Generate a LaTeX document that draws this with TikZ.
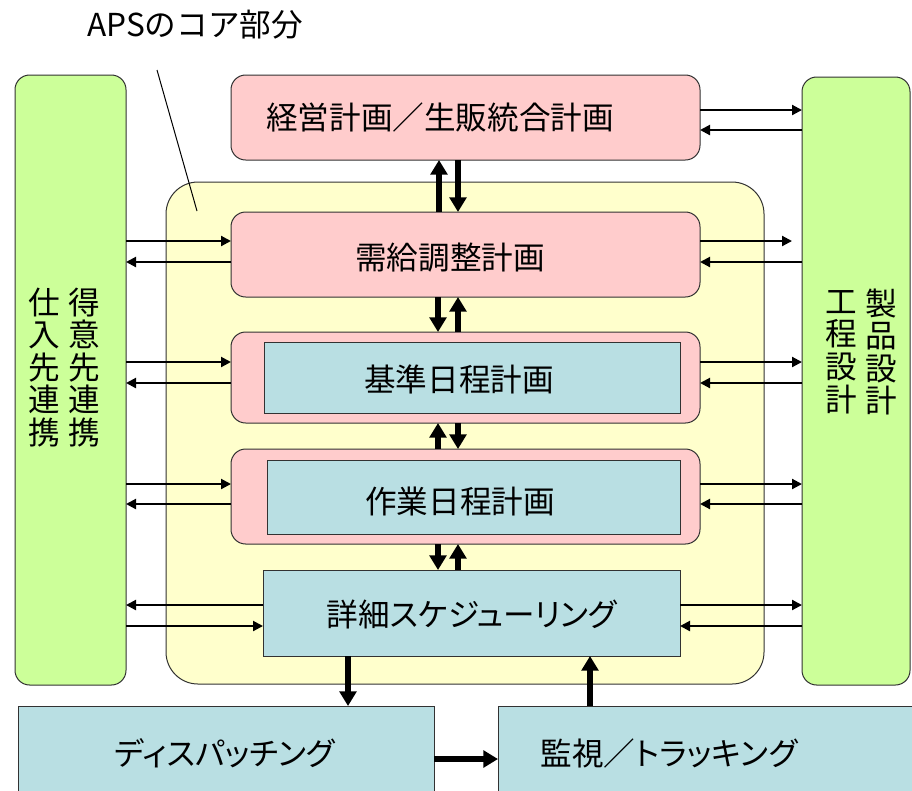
\documentclass[tikz,border=0pt]{standalone}
\usepackage{fontspec}
\setmainfont{Noto Sans CJK JP}
\newfontfamily\kanafont[RawFeature={+palt}]{Noto Sans CJK JP}
\usetikzlibrary{arrows.meta}
\newdimen\pxu \pxu=0.75pt
\definecolor{pinkc}{RGB}{255,204,204}
\definecolor{yellowc}{RGB}{255,255,204}
\definecolor{greenc}{RGB}{204,255,153}
\definecolor{tealc}{RGB}{185,223,227}
\definecolor{edgec}{RGB}{50,50,50}
\tikzset{
  box/.style={draw=edgec, line width=0.75pt, inner sep=0pt, outer sep=0pt},
  rbox/.style={box, rounded corners=11pt},
  txt/.style={inner sep=0pt, font=\fontsize{23.7pt}{24.4pt}\selectfont},
  ktxt/.style={inner sep=0pt, font=\kanafont\fontsize{23.7pt}{24.4pt}\selectfont},
  vtxt/.style={inner sep=0pt, align=center, font=\fontsize{23.7pt}{24.4pt}\selectfont},
  thin/.style={line width=1.6pt, -{Triangle[length=7.5pt,width=7.5pt]}},
  thick/.style={line width=4pt, -{Triangle[length=11pt,width=12.5pt]}},
}
\begin{document}
\begin{tikzpicture}[x=0.75pt,y=-0.75pt]
\useasboundingbox (0,0) rectangle (912,790);
\clip (0,0) rectangle (912,790);
\fill[white] (0,0) rectangle (912,790);
% side columns
\node[rbox, fill=greenc, minimum width=111\pxu, minimum height=610\pxu] (L) at (70.5,380) {};
\node[rbox, fill=greenc, minimum width=108\pxu, minimum height=608\pxu] (R) at (856,381) {};
% core
\node[box, rounded corners=24pt, fill=yellowc, minimum width=598\pxu, minimum height=502\pxu] (Y) at (465,433) {};
% boxes
\node[rbox, fill=pinkc, minimum width=469\pxu, minimum height=85\pxu] (A) at (465.5,117.5) {};
\node[rbox, fill=pinkc, minimum width=469\pxu, minimum height=85\pxu] (B) at (465.5,254.5) {};
\node[rbox, fill=pinkc, minimum width=469\pxu, minimum height=91\pxu] (C) at (465.5,377.5) {};
\node[box, fill=tealc, minimum width=416\pxu, minimum height=71\pxu] (Ci) at (472,377.5) {};
\node[rbox, fill=pinkc, minimum width=469\pxu, minimum height=95\pxu] (D) at (465.5,496.5) {};
\node[box, fill=tealc, minimum width=413\pxu, minimum height=74\pxu] (Di) at (473.5,497) {};
\node[box, fill=tealc, minimum width=417\pxu, minimum height=86\pxu] (E) at (471.5,613) {};
\node[box, fill=tealc, minimum width=416\pxu, minimum height=124\pxu] (F) at (226,768) {};
\node[box, fill=tealc, minimum width=442\pxu, minimum height=124\pxu] (G) at (719,768) {};
% texts
\node[txt] (tAPS) at (195,25) {APSのコア部分};
\node[txt] (tA) at (440,117) {経営計画／生販統合計画};
\node[txt] (tB) at (450,258) {需給調整計画};
\node[txt] (tC) at (459,379) {基準日程計画};
\node[txt] (tD) at (460,501) {作業日程計画};
\node[ktxt] (tE) at (472,614) {詳細スケジューリング};
\node[ktxt] (tF) at (225,753) {ディスパッチング};
\node[ktxt] (tG) at (669,753) {監視／トラッキング};
\node[vtxt] (tL1) at (44,367.5) {仕\\入\\先\\連\\携};
\node[vtxt] (tL2) at (84,367.5) {得\\意\\先\\連\\携};
\node[vtxt] (tR1) at (841,352) {工\\程\\設\\計};
\node[vtxt] (tR2) at (881,352) {製\\品\\設\\計};
% annotation line
\coordinate (ann1) at (157,70);
\coordinate (ann2) at (197,211);
\draw[line width=0.75pt, black] (ann1) -- (ann2);
% thin arrows left
\draw[thin] (L.east |- 0,241) -- (B.west |- 0,241);
\draw[thin] (B.west |- 0,262) -- (L.east |- 0,262);
\draw[thin] (L.east |- 0,362) -- (C.west |- 0,362);
\draw[thin] (C.west |- 0,383) -- (L.east |- 0,383);
\draw[thin] (L.east |- 0,484) -- (D.west |- 0,484);
\draw[thin] (D.west |- 0,504) -- (L.east |- 0,504);
\draw[thin] (E.west |- 0,605) -- (L.east |- 0,605);
\draw[thin] (L.east |- 0,626) -- (E.west |- 0,626);
% thin arrows right
\draw[thin] (A.east |- 0,110) -- (R.west |- 0,110);
\draw[thin] (R.west |- 0,130) -- (A.east |- 0,130);
\coordinate (bEnd) at (792,241);
\draw[thin] (B.east |- 0,241) -- (bEnd);
\draw[thin] (R.west |- 0,262) -- (B.east |- 0,262);
\draw[thin] (C.east |- 0,362) -- (R.west |- 0,362);
\draw[thin] (R.west |- 0,383) -- (C.east |- 0,383);
\draw[thin] (D.east |- 0,484) -- (R.west |- 0,484);
\draw[thin] (R.west |- 0,504) -- (D.east |- 0,504);
\draw[thin] (E.east |- 0,605) -- (R.west |- 0,605);
\draw[thin] (R.west |- 0,626) -- (E.east |- 0,626);
% thick vertical arrows
\draw[thick] (B.north -| 439,0) -- (A.south -| 439,0);
\draw[thick] (A.south -| 458,0) -- (B.north -| 458,0);
\draw[thick] (B.south -| 438,0) -- (C.north -| 438,0);
\draw[thick] (C.north -| 458,0) -- (B.south -| 458,0);
\draw[thick] (D.north -| 438,0) -- (C.south -| 438,0);
\draw[thick] (C.south -| 458,0) -- (D.north -| 458,0);
\draw[thick] (D.south -| 438,0) -- (E.north -| 438,0);
\draw[thick] (E.north -| 458,0) -- (D.south -| 458,0);
\draw[thick] (E.south -| 348,0) -- (F.north -| 348,0);
\draw[thick] (G.north -| 590,0) -- (E.south -| 590,0);
\draw[thick] (F.east |- 0,759) -- (G.west |- 0,759);
\end{tikzpicture}
\end{document}
